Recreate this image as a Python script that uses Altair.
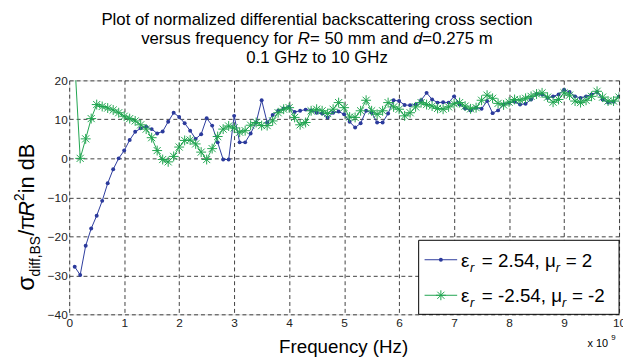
import altair as alt
import pandas as pd

FONT = "Liberation Sans"
BLUE = "#2b3a9c"
GREEN = "#1fa54f"

freq = [round(0.1 * i, 1) for i in range(1, 101)]

blue_db = [
    -27.8, -29.9, -22.4, -18.0, -14.7, -10.9, -6.4, -2.8, 0.0, 2.0,
    4.7, 6.8, 7.7, 8.1, 7.5, 6.4, 6.9, 9.4, 11.7, 10.6,
    9.0, 7.1, 5.0, 6.2, 10.3, 8.4, 4.1, -0.3, -0.3, 10.9,
    4.1, 4.1, 6.4, 9.2, 14.9, 9.2, 11.1, 12.2, 12.8, 13.2,
    11.9, 12.2, 12.5, 12.3, 11.7, 11.5, 10.5, 11.7, 12.0, 11.3,
    9.4, 7.9, 9.0, 12.2, 11.7, 9.2, 9.2, 11.5, 14.9, 14.7,
    13.7, 13.6, 13.8, 14.9, 16.8, 15.1, 14.3, 14.4, 14.3, 15.9,
    13.8, 12.8, 12.3, 13.0, 12.7, 14.7, 11.6, 12.3, 13.8, 14.3,
    14.5, 13.8, 14.0, 15.1, 16.5, 16.4, 15.5, 15.9, 16.4, 17.6,
    17.0, 15.9, 15.5, 15.9, 16.4, 17.0, 15.1, 14.3, 14.5, 15.9,
]

green_db = [
    25.0, 0.0, 5.0, 10.2, 13.8, 13.3, 12.9, 12.4, 11.7, 10.8,
    10.2, 9.6, 8.6, 7.5, 5.3, 2.0, -0.3, -0.9, 0.5, 2.9,
    4.6, 4.7, 3.7, 1.6, -0.3, 2.5, 5.6, 7.5, 8.3, 7.8,
    6.7, 7.1, 8.5, 9.2, 8.4, 8.4, 9.6, 11.7, 12.6, 13.0,
    10.5, 8.6, 9.2, 12.2, 12.6, 12.2, 11.5, 12.6, 14.3, 13.0,
    10.6, 10.5, 12.2, 14.9, 12.2, 11.3, 12.2, 14.3, 13.2, 12.6,
    10.9, 11.7, 13.2, 14.3, 13.8, 13.4, 12.8, 12.6, 13.2, 14.0,
    14.3, 13.4, 12.7, 13.0, 14.9, 16.2, 15.4, 14.1, 13.7, 14.4,
    15.1, 14.9, 15.4, 15.9, 16.5, 16.8, 15.7, 14.4, 15.1, 16.8,
    16.2, 14.7, 14.3, 14.9, 15.9, 17.2, 15.7, 14.7, 14.7, 15.7,
]

x_ticks = list(range(0, 11))
y_ticks = [-40, -30, -20, -10, 0, 10, 20]

blue_df = pd.DataFrame({"f": freq, "v": blue_db})
green_df = pd.DataFrame({"f": freq, "v": green_db})

W_PLOT, H_PLOT = 557, 237

xs = alt.Scale(domain=[0, 10], nice=False, zero=False)
ys = alt.Scale(domain=[-40, 20], nice=False, zero=False)

axis_common = dict(
    grid=True, gridDash=[4, 3], gridColor="#111111", gridWidth=0.8,
    ticks=False, domain=False, labelFont=FONT, labelFontSize=12,
    labelColor="#222222", labelOverlap=False, labelFlush=False,
)

X = alt.X("f:Q", scale=xs, title=None,
          axis=alt.Axis(values=x_ticks, tickCount=11, labelPadding=3, **axis_common))
Y = alt.Y("v:Q", scale=ys, title=None,
          axis=alt.Axis(values=y_ticks, tickCount=7, labelPadding=2, **axis_common))

ASTER = "M-1,0L1,0M0,-1L0,1M-0.72,-0.72L0.72,0.72M-0.72,0.72L0.72,-0.72"

blue_line = alt.Chart(blue_df).mark_line(color=BLUE, strokeWidth=1, clip=True).encode(x=X, y=Y)
blue_pts = alt.Chart(blue_df).mark_point(color=BLUE, filled=True, size=16, opacity=1, clip=True).encode(
    x=X, y=Y)
green_line = alt.Chart(green_df).mark_line(color=GREEN, strokeWidth=1, clip=True).encode(x=X, y=Y)
green_pts = alt.Chart(green_df).mark_point(color=GREEN, shape=ASTER, filled=False, size=100,
                                           strokeWidth=1, opacity=1, clip=True).encode(x=X, y=Y)

one = pd.DataFrame({"k": [0]})

CW = {' ': .278, 'a': .556, 'b': .556, 'c': .5, 'd': .556, 'e': .556, 'f': .278, 'g': .556,
      'h': .556, 'i': .222, 'j': .222, 'k': .5, 'l': .222, 'm': .833, 'n': .556, 'o': .556,
      'p': .556, 'q': .556, 'r': .333, 's': .5, 't': .278, 'u': .556, 'v': .5, 'w': .722,
      'x': .5, 'y': .5, 'z': .5, '.': .278, ',': .278, '=': .584, '-': .333, '/': .278,
      'R': .722, 'B': .667, 'S': .667, 'σ': .6, 'π': .6, 'ε': .45, 'μ': .58}


def tw(s, size):
    return sum(CW.get(c, .556) for c in s) * size


def txt(s, x, y, size, italic=False, angle=0, align="left", baseline="alphabetic"):
    kw = dict(text=s, fontSize=size, font=FONT, color="black", align=align,
              baseline=baseline, fontStyle="italic" if italic else "normal")
    if angle:
        kw["angle"] = angle
    return alt.Chart(one).mark_text(**kw).encode(x=alt.value(x), y=alt.value(y))


layers = [blue_line, blue_pts, green_line, green_pts]

# Title (three lines)
TC = 251
TS = 17
layers.append(txt("Plot of normalized differential backscattering cross section", TC, -56, TS, align="center"))
segs2 = [("versus frequency for ", False), ("R", True), ("= 50 mm and ", False), ("d", True), ("=0.275 m", False)]
total2 = sum(tw(s, TS) for s, _ in segs2)
cx = TC - total2 / 2
for s, it in segs2:
    layers.append(txt(s, cx, -37, TS, italic=it))
    cx += tw(s, TS)
layers.append(txt("0.1 GHz to 10 GHz", TC, -18, TS, align="center"))

# X axis title and exponent
layers.append(txt("Frequency (Hz)", 278, 276, 19, align="center"))
layers.append(txt("x 10", 525, 270, 11))
layers.append(txt("9", 549, 263, 8))

# Y axis title (rotated, composed)
MS, SS = 22, 14
yb = 213
ysegs = [("σ", MS + 2, False, -36), ("diff,BS", SS, False, -30), ("/π", MS, False, -36),
         ("R", MS, True, -36), ("2", SS, False, -46), ("  in dB", MS, False, -36)]
for s, sz, it, bx in ysegs:
    layers.append(txt(s, bx, yb, sz, italic=it, angle=270))
    yb -= tw(s, sz)

# Legend box
layers.append(alt.Chart(one).mark_rect(fill="white", stroke="black", strokeWidth=1).encode(
    x=alt.value(354), x2=alt.value(557), y=alt.value(162), y2=alt.value(237)))
for ly, col, shp, filled, sz in [(181.7, BLUE, "circle", True, 16), (217.7, GREEN, ASTER, False, 100)]:
    layers.append(alt.Chart(one).mark_rule(color=col, strokeWidth=1).encode(
        x=alt.value(360), x2=alt.value(393), y=alt.value(ly)))
    layers.append(alt.Chart(one).mark_point(color=col, shape=shp, filled=filled, size=sz,
                                            strokeWidth=1, opacity=1).encode(
        x=alt.value(376.5), y=alt.value(ly)))

LS, LSS = 19, 13
for ly, s1, s2 in [(181.7, "= 2.54,", "= 2"), (217.7, "= -2.54,", "= -2")]:
    b = ly + 7
    layers.append(txt("ε", 397, b, LS))
    layers.append(txt("r", 406, b + 5, LSS, italic=True))
    layers.append(txt(s1, 418, b, LS))
    mx = 418 + tw(s1 + " ", LS)
    layers.append(txt("μ", mx, b, LS))
    layers.append(txt("r", mx + 11, b + 5, LSS, italic=True))
    layers.append(txt(s2, mx + 21, b, LS))

chart = alt.layer(*layers).properties(
    width=W_PLOT, height=H_PLOT,
    autosize=alt.AutoSizeParams(type="none"),
    padding={"left": 62, "top": 71, "right": 4, "bottom": 48},
).configure_view(stroke="black", strokeWidth=1.2).configure(background="white")

chart.save("out.html", embed_options={"renderer": "svg", "actions": False})
